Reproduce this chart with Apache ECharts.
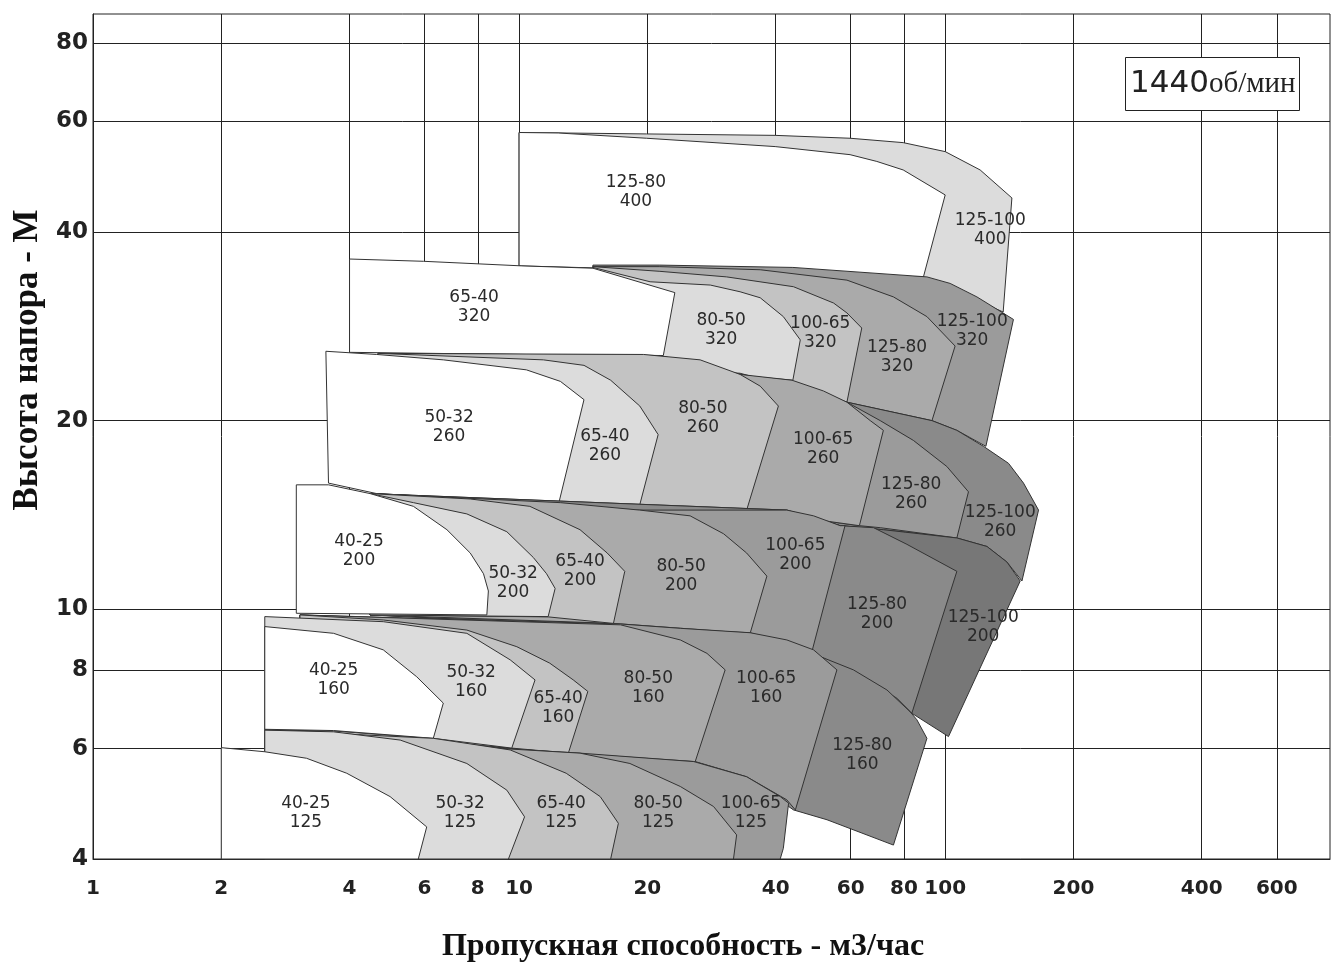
<!DOCTYPE html>
<html><head><meta charset="utf-8">
<script src="https://cdn.jsdelivr.net/npm/echarts@6/dist/echarts.min.js"></script>
<style>html,body{margin:0;padding:0;background:#fff}#c{width:1334px;height:967px}</style>
</head><body><div id="c"></div>
<script>
// ---------------- DATA (flow m3/h, head m) ----------------
const X_TICKS = [1, 2, 4, 6, 8, 10, 20, 40, 60, 80, 100, 200, 400, 600];
const Y_TICKS = [4, 6, 8, 10, 20, 40, 60, 80];
const X_RANGE = [1, 800];
const Y_RANGE = [4, 89];

// Row 400
const P_125_100_400 = [[10,57.6],[19.9,57.3],[39.9,57.0],[59.8,56.4],[79.7,55.5],[100,53.7],[120.8,50.2],[143.4,45.3],[136.8,29.8],[88.9,33.9],[10,35.3]];
const P_125_80_400 = [[10,57.6],[12.35,57.5],[19.9,56.4],[39.9,54.7],[59.8,53.1],[69.1,51.8],[79.7,50.2],[100,45.8],[88.9,33.9],[10,35.3]];
// Row 320
const P_125_100_320 = [[14.9,35.4],[21.4,35.4],[43.9,35.1],[90.6,33.9],[102.7,33.1],[118.7,31.5],[144.6,29.0],[124.6,18.2],[106.5,19.3],[93.1,20.0],[58.8,21.4],[14.9,25.3]];
const P_125_80_320 = [[14.9,35.2],[21.4,35.2],[36.8,34.8],[58.8,33.5],[75.6,31.5],[90.6,29.3],[105.5,26.3],[93.1,20.0],[58.8,21.4],[43.9,23.1],[33.0,23.6],[14.9,25.3]];
const P_100_65_320 = [[14.9,35.2],[21.4,34.6],[30.7,33.9],[44.05,32.7],[54.7,30.8],[58.8,29.7],[63.7,28.1],[58.8,21.4],[43.9,23.1],[33.0,23.6],[14.9,25.3]];
const P_80_50_320 = [[14.9,35.1],[20.3,33.3],[28.1,32.9],[33.0,32.1],[36.8,31.4],[41.7,29.3],[45.7,26.9],[43.9,23.2],[33.0,23.6],[21.8,25.3],[14.9,25.4]];
const P_65_40_320 = [[4.0,36.2],[5.96,35.9],[10.15,35.3],[14.9,35.0],[23.2,32.0],[21.8,25.4],[10.05,25.5],[4.0,25.7]];
// Row 260
const P_125_100_260 = [[4.67,25.6],[33.0,23.8],[58.8,21.4],[93.1,20.0],[106.5,19.3],[123.0,18.2],[140.8,17.1],[152.7,15.9],[165.6,14.4],[151.4,11.1],[139.6,11.9],[125.3,12.6],[106.5,13.0],[71.6,13.4],[56.7,13.6],[34.2,14.4],[4.67,15.3]];
const P_125_80_260 = [[4.67,25.6],[33.0,23.7],[58.8,21.4],[70.4,20.0],[84.2,18.6],[100.9,16.9],[113.4,15.4],[106.5,13.0],[70.4,13.5],[62.9,13.6],[34.2,14.4],[4.67,15.3]];
const P_100_65_260 = [[4.67,25.6],[21.4,25.4],[33.0,23.7],[43.7,23.2],[51.8,22.3],[58.8,21.4],[66.7,20.0],[71.6,19.3],[62.9,13.6],[34.2,14.4],[4.67,15.3]];
const P_80_50_260 = [[4.67,25.6],[19.6,25.5],[26.6,25.0],[33.0,23.7],[36.8,22.7],[40.6,21.1],[34.2,14.4],[19.1,14.5],[4.67,15.3]];
const P_65_40_260 = [[4.67,25.6],[11.4,25.0],[14.2,24.5],[16.4,23.2],[19.2,21.1],[21.2,19.0],[19.1,14.5],[12.35,14.8],[4.67,15.3]];
const P_50_32_260 = [[3.52,25.8],[4.63,25.5],[6.64,25.0],[10.4,24.1],[12.5,23.1],[14.2,21.6],[12.4,14.8],[7.96,15.0],[4.63,15.3],[3.57,15.9]];
// Row 200
const P_125_100_200 = [[4.47,15.3],[42.5,14.4],[56.7,13.6],[71.6,13.4],[106.5,13.0],[125.3,12.6],[139.6,11.9],[150.0,11.1],[101.8,6.27],[83.5,6.83],[63.2,7.81],[48.65,8.56],[34.85,9.16],[4.47,9.80]];
const P_125_80_200 = [[4.47,15.3],[42.5,14.4],[56.7,13.6],[67.9,13.5],[81.3,12.7],[106.5,11.5],[83.5,6.83],[77.0,7.22],[63.2,7.81],[50.9,8.41],[48.65,8.56],[34.85,9.16],[4.47,9.80]];
const P_100_65_200 = [[4.47,15.3],[19.2,14.4],[27.6,14.4],[42.5,14.4],[49.1,14.1],[56.7,13.6],[58.2,13.6],[48.65,8.56],[34.85,9.16],[16.65,9.50],[4.47,9.80]];
const P_80_50_200 = [[4.47,15.3],[12.5,14.8],[19.2,14.4],[25.2,14.1],[30.2,13.2],[34.2,12.3],[38.15,11.3],[34.85,9.16],[16.65,9.50],[4.47,9.80]];
const P_65_40_200 = [[4.47,15.3],[7.68,15.0],[10.6,14.6],[13.9,13.4],[16.1,12.3],[17.7,11.5],[16.65,9.50],[11.7,9.73],[4.47,9.80]];
const P_50_32_200 = [[4.47,15.3],[5.65,14.8],[7.54,14.2],[9.36,13.3],[10.8,12.1],[11.6,11.4],[12.15,10.8],[11.7,9.74],[4.47,9.80]];
const P_40_25_200 = [[3.0,15.8],[3.57,15.8],[4.47,15.3],[5.65,14.6],[6.77,13.4],[7.68,12.3],[8.25,11.4],[8.47,10.7],[8.40,9.80],[3.0,9.86]];
// Row 160
const P_125_80_160 = [[3.06,9.80],[34.85,9.18],[48.65,8.56],[50.9,8.41],[60.9,8.01],[73.0,7.44],[82.7,6.87],[85.8,6.67],[90.6,6.23],[75.6,4.21],[52.8,4.62],[44.05,4.79],[34.2,5.41],[25.9,5.72],[3.06,6.42]];
const P_100_65_160 = [[3.06,9.80],[17.3,9.48],[23.9,9.33],[34.85,9.18],[42.5,8.94],[49.1,8.62],[55.7,8.01],[44.5,4.79],[42.5,4.97],[34.2,5.41],[25.9,5.72],[13.05,5.90],[3.06,6.42]];
const P_80_50_160 = [[3.06,9.80],[17.3,9.45],[23.9,8.94],[27.6,8.51],[30.45,8.01],[25.9,5.72],[13.05,5.90],[3.06,6.42]];
const P_65_40_160 = [[3.06,9.80],[4.80,9.62],[7.54,9.27],[9.88,8.72],[11.8,8.21],[13.4,7.72],[14.5,7.40],[13.05,5.90],[9.61,6.01],[3.06,6.42]];
const P_50_32_160 = [[2.53,9.74],[4.80,9.56],[7.54,9.16],[9.53,8.31],[10.9,7.72],[9.61,6.01],[6.29,6.23],[3.67,6.40],[2.53,6.42]];
const P_40_25_160 = [[2.53,9.39],[3.67,9.16],[4.80,8.62],[5.75,7.81],[6.64,7.09],[6.29,6.23],[3.67,6.41],[2.53,6.44]];
// Row 125
const P_100_65_125 = [[2.53,6.42],[9.53,5.99],[13.9,5.90],[25.7,5.72],[34.2,5.41],[41.0,5.03],[42.9,4.91],[41.7,4.16],[41.0,4.0],[2.53,4.0]];
const P_80_50_125 = [[2.53,6.42],[9.53,5.99],[13.9,5.90],[18.2,5.68],[23.9,5.22],[28.6,4.85],[32.4,4.37],[31.85,4.0],[2.53,4.0]];
const P_65_40_125 = [[2.53,6.42],[6.29,6.23],[9.53,5.97],[12.9,5.48],[15.5,5.03],[17.1,4.56],[16.4,4.0],[2.53,4.0]];
const P_50_32_125 = [[2.53,6.42],[3.67,6.38],[5.26,6.19],[7.54,5.68],[9.36,5.15],[10.3,4.67],[9.44,4.0],[2.53,4.0]];
const P_40_25_125 = [[2.0,6.02],[2.53,5.93],[3.17,5.79],[3.94,5.48],[4.98,5.03],[6.07,4.50],[5.80,4.0],[2.0,4.0]];

// Rows, largest pump first (drawn underneath smaller ones)
const ROW_400 = [P_125_100_400, P_125_80_400];
const ROW_320 = [P_125_100_320, P_125_80_320, P_100_65_320, P_80_50_320, P_65_40_320];
const ROW_260 = [P_125_100_260, P_125_80_260, P_100_65_260, P_80_50_260, P_65_40_260, P_50_32_260];
const ROW_200 = [P_125_100_200, P_125_80_200, P_100_65_200, P_80_50_200, P_65_40_200, P_50_32_200, P_40_25_200];
const ROW_160 = [P_125_80_160, P_100_65_160, P_80_50_160, P_65_40_160, P_50_32_160, P_40_25_160];
const ROW_125 = [P_100_65_125, P_80_50_125, P_65_40_125, P_50_32_125, P_40_25_125];

// Field labels: [pump, impeller, flow, head]
const LABELS_400 = [['125-80','400',18.8,46.3],['125-100','400',127.6,40.3]];
const LABELS_320 = [['65-40','320',7.84,30.3],['80-50','320',29.8,27.9],['100-65','320',50.9,27.6],['125-80','320',77.1,25.3],['125-100','320',115.7,27.8]];
const LABELS_260 = [['50-32','260',6.85,19.5],['65-40','260',15.9,18.2],['80-50','260',27.0,20.2],['100-65','260',51.7,18.0],['125-80','260',83.2,15.3],['125-100','260',134.6,13.8]];
const LABELS_200 = [['40-25','200',4.21,12.4],['50-32','200',9.68,11.0],['65-40','200',13.9,11.5],['80-50','200',24.0,11.3],['100-65','200',44.5,12.2],['125-80','200',69.2,9.84],['125-100','200',122.8,9.38]];
const LABELS_160 = [['40-25','160',3.67,7.72],['50-32','160',7.72,7.66],['65-40','160',12.35,6.96],['80-50','160',20.1,7.5],['100-65','160',38.0,7.5],['125-80','160',63.9,5.86]];
const LABELS_125 = [['40-25','125',3.16,4.74],['50-32','125',7.27,4.74],['65-40','125',12.55,4.74],['80-50','125',21.2,4.74],['100-65','125',35.0,4.74]];

const SPEED = '1440';
const SPEED_UNIT = 'об/мин';
const X_NAME = 'Пропускная способность - м3/час';
const Y_NAME = 'Высота напора - М';

// ---------------- RENDER ----------------
const SHADES = ['#ffffff','#dcdcdc','#c3c3c3','#aaaaaa','#9b9b9b','#8a8a8a','#777777'];
const L = Math.log10;
const regions = [];
[ROW_400, ROW_320, ROW_260, ROW_200, ROW_160, ROW_125].forEach(row => {
  row.forEach((pts, i) => regions.push({pts, fill: SHADES[row.length - 1 - i]}));
});
const labels = [].concat(LABELS_400, LABELS_320, LABELS_260, LABELS_200, LABELS_160, LABELS_125);

const chart = echarts.init(document.getElementById('c'), null, {renderer: 'canvas'});
const fmt = v => String(Math.round(Math.pow(10, v)));
chart.setOption({
  animation: false,
  backgroundColor: '#fff',
  title: {
    text: '{a|' + SPEED + '}{b|' + SPEED_UNIT + '}',
    left: 1125, top: 55,
    padding: [11, 4, 11, 5],
    borderColor: '#222', borderWidth: 1, backgroundColor: '#fff',
    textStyle: {fontWeight: 'normal', rich: {
      a: {fontFamily: 'DejaVu Sans', fontSize: 31, fontWeight: 'normal', color: '#222', lineHeight: 36},
      b: {fontFamily: 'Liberation Serif', fontSize: 29, fontWeight: 'normal', color: '#222', lineHeight: 36}
    }}
  },
  grid: {left: 93, right: 4, top: 14, bottom: 108, show: true, borderColor: '#222', borderWidth: 1, containLabel: false, outerBoundsMode: 'none'},
  xAxis: {
    type: 'value', min: L(X_RANGE[0]), max: L(X_RANGE[1]),
    name: X_NAME, nameLocation: 'middle', nameGap: 72,
    nameTextStyle: {fontFamily: 'Liberation Serif', fontWeight: 'bold', fontSize: 32, color: '#111', padding: [0, 57, 0, 0]},
    axisLine: {show: true, lineStyle: {color: '#222'}},
    axisTick: {show: false, customValues: X_TICKS.map(L)},
    axisLabel: {customValues: X_TICKS.map(L), formatter: fmt, margin: 20,
      fontFamily: 'DejaVu Sans', fontWeight: 'bold', fontSize: 20, color: '#222'},
    splitLine: {show: true, lineStyle: {color: '#222', width: 1}}
  },
  yAxis: {
    type: 'value', min: L(Y_RANGE[0]), max: L(Y_RANGE[1]),
    name: Y_NAME, nameLocation: 'middle', nameGap: 45, nameRotate: 90,
    nameTextStyle: {fontFamily: 'Liberation Serif', fontWeight: 'bold', fontSize: 35, color: '#111', padding: [0, 0, 0, 153]},
    axisLine: {show: true, lineStyle: {color: '#222'}},
    axisTick: {show: false, customValues: Y_TICKS.map(L)},
    axisLabel: {customValues: Y_TICKS.map(L), formatter: fmt, margin: 5,
      fontFamily: 'DejaVu Sans', fontWeight: 'bold', fontSize: 23, color: '#222'},
    splitLine: {show: true, lineStyle: {color: '#222', width: 1}}
  },
  series: [
    {
      type: 'custom', z: 2, silent: true,
      data: regions.map(r => [L(r.pts[0][0]), L(r.pts[0][1])]),
      renderItem: (params, api) => {
        const r = regions[params.dataIndex];
        const points = r.pts.map(p => api.coord([L(p[0]), L(p[1])]));
        return {type: 'polygon', shape: {points}, style: {fill: r.fill, stroke: '#333', lineWidth: 1}};
      }
    },
    {
      type: 'custom', z: 3, silent: true,
      data: labels.map(l => [L(l[2]), L(l[3])]),
      renderItem: (params, api) => {
        const l = labels[params.dataIndex];
        const c = api.coord([L(l[2]), L(l[3])]);
        return {type: 'text', style: {text: l[0] + '\n' + l[1], x: c[0], y: c[1],
          align: 'center', verticalAlign: 'middle', fontFamily: 'DejaVu Sans', fontSize: 17,
          lineHeight: 19, fill: '#2a2a2a'}};
      }
    }
  ]
});
</script></body></html>
